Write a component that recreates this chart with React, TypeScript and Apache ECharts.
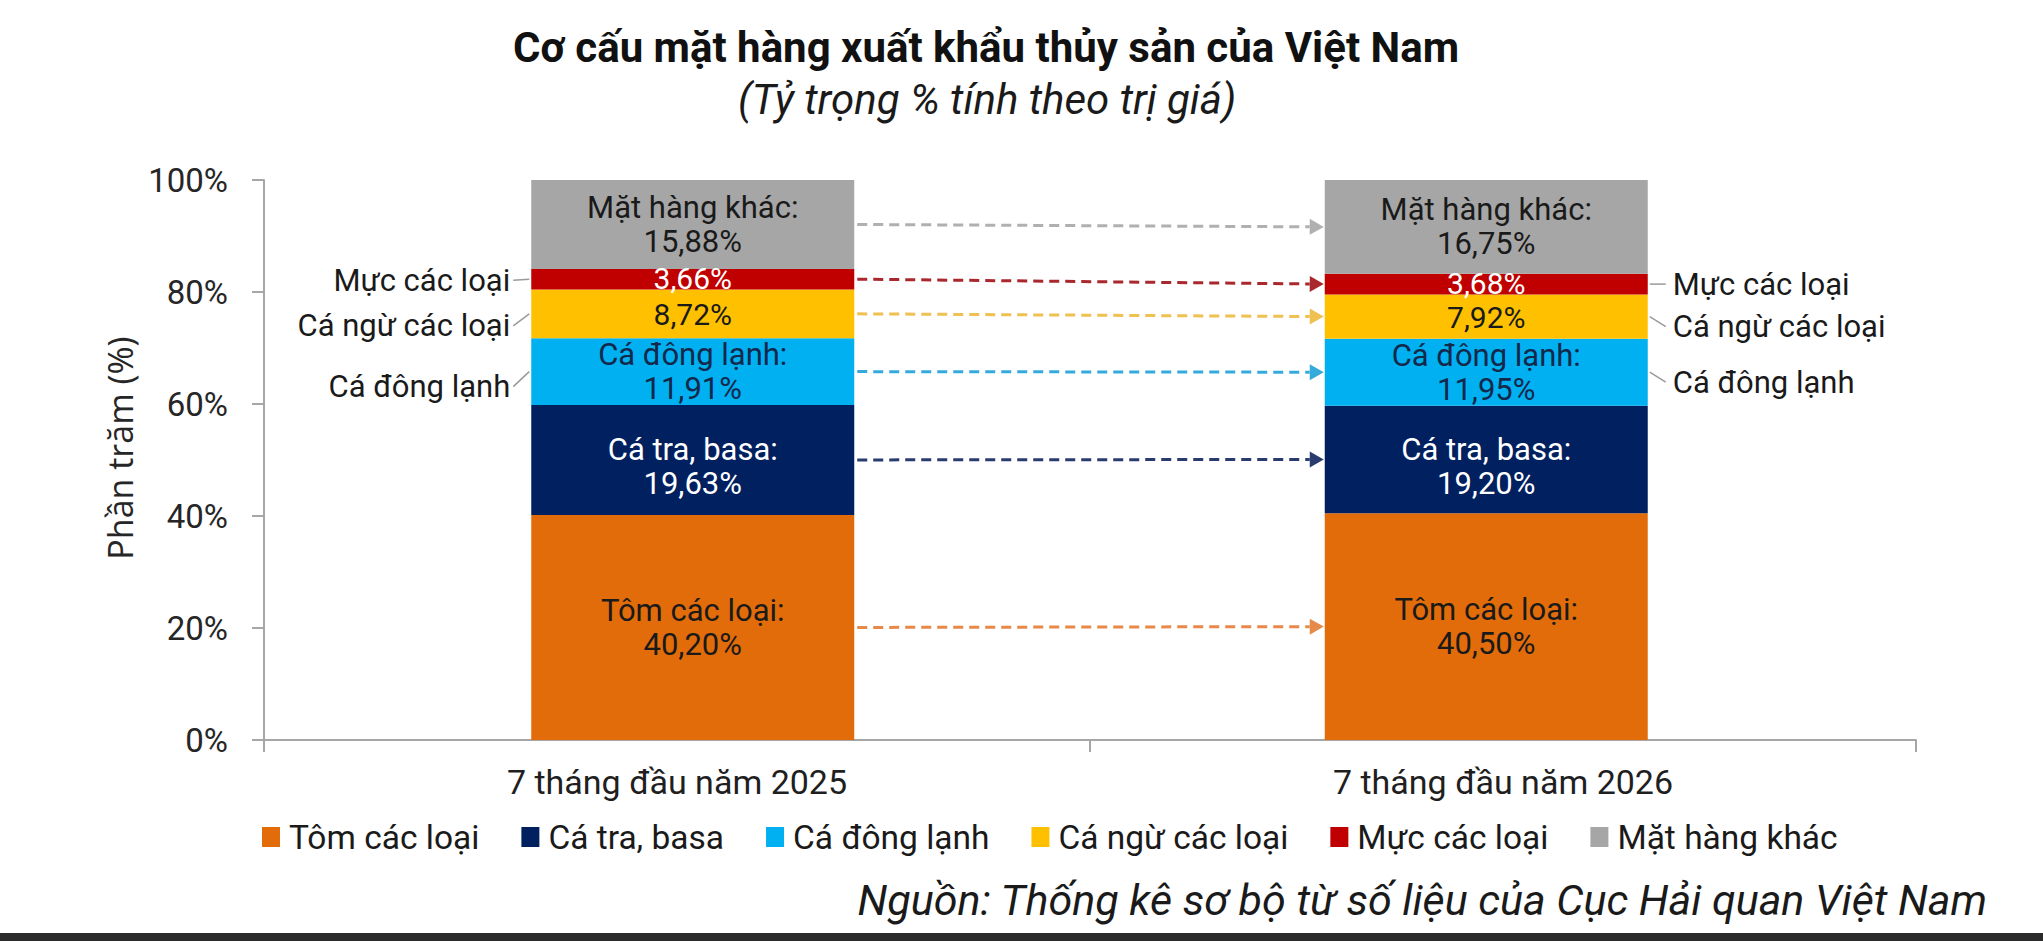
import { useEffect, useRef } from "react";
import * as echarts from "echarts";

// --- data ---
const periods = ["7 tháng đầu năm 2025", "7 tháng đầu năm 2026"];
const groups = [
  "Tôm các loại",
  "Cá tra, basa",
  "Cá đông lạnh",
  "Cá ngừ các loại",
  "Mực các loại",
  "Mặt hàng khác",
];
const share2025 = [40.2, 19.63, 11.91, 8.72, 3.66, 15.88];
const share2026 = [40.5, 19.2, 11.95, 7.92, 3.68, 16.75];
const yTicks = [0, 20, 40, 60, 80, 100];
// groups that get a callout name beside the bars
const calloutGroups = [2, 3, 4];

const TITLE = "Cơ cấu mặt hàng xuất khẩu thủy sản của Việt Nam";
const SUBTITLE = "(Tỷ trọng % tính theo trị giá)";
const SOURCE = "Nguồn: Thống kê sơ bộ từ số liệu của Cục Hải quan Việt Nam";

// --- styles ---
const FONT = "Roboto, 'Noto Sans', sans-serif";
const BAR_W = 323;
const COLORS = ["#E36C0A", "#002060", "#00B0F0", "#FFC000", "#C00000", "#A6A6A6"];
const ARROW_COLORS = ["#E58A48", "#2A3C6E", "#35AADB", "#EEC150", "#A8282E", "#B0B0B0"];
const LABEL_COLORS = ["#1a1a1a", "#ffffff", "#14284B", "#1a1a1a", "#ffffff", "#1a1a1a"];
const SHOW_NAME = [true, true, true, false, false, true];
const LABEL_DY = [0, 7, 0, 1, -1, 0];
const LEFT_DY = [15, 12, 1];
const RIGHT_DY = [10, 10, 0];
const AXIS_COLOR = "#A6A6A6";

const fmt = (v: number) => v.toFixed(2).replace(".", ",") + "%";

function stackMids(vals: number[]) {
  let acc = 0;
  return vals.map((v) => {
    const m = acc + v / 2;
    acc += v;
    return m;
  });
}

export default function App() {
  const ref = useRef<HTMLDivElement>(null);

  useEffect(() => {
    if (!ref.current) return;
    const chart = echarts.init(ref.current, null, { renderer: "svg" });
    const mid25 = stackMids(share2025);
    const mid26 = stackMids(share2026);

    const bars = groups.map((name, i) => ({
      type: "bar",
      name,
      stack: "total",
      xAxisIndex: 1,
      yAxisIndex: 1,
      barWidth: BAR_W,
      itemStyle: { color: COLORS[i] },
      data: [share2025[i], share2026[i]],
      label: {
        show: true,
        position: "inside",
        fontFamily: FONT,
        fontSize: SHOW_NAME[i] ? 31 : 30,
        lineHeight: SHOW_NAME[i] ? 34 : 28,
        color: LABEL_COLORS[i],
        offset: [0, LABEL_DY[i]],
        formatter: (p: any) => (SHOW_NAME[i] ? name + ":\n" : "") + fmt(p.value),
      },
    }));

    // dashed arrows between matching segments
    const arrows = {
      type: "custom",
      xAxisIndex: 1,
      yAxisIndex: 1,
      silent: true,
      clip: false,
      z: 5,
      data: groups.map((_, i) => [0, mid25[i], mid26[i], i]),
      renderItem: (_params: any, api: any) => {
        const i = api.value(3) as number;
        const a = api.coord([0, api.value(1)]);
        const b = api.coord([1, api.value(2)]);
        const x1 = a[0] + BAR_W / 2 + 3;
        const y1 = a[1];
        const x2 = b[0] - BAR_W / 2 - 1;
        const y2 = b[1];
        const len = Math.hypot(x2 - x1, y2 - y1);
        const ux = (x2 - x1) / len;
        const uy = (y2 - y1) / len;
        const hl = 14;
        const hw = 8;
        const bx = x2 - ux * hl;
        const by = y2 - uy * hl;
        return {
          type: "group",
          children: [
            {
              type: "line",
              shape: { x1, y1, x2: bx, y2: by },
              style: { stroke: ARROW_COLORS[i], lineWidth: 3, lineDash: [10, 6] },
            },
            {
              type: "polygon",
              shape: {
                points: [
                  [x2, y2],
                  [bx - uy * hw, by + ux * hw],
                  [bx + uy * hw, by - ux * hw],
                ],
              },
              style: { fill: ARROW_COLORS[i] },
            },
          ],
        };
      },
    };

    // names with leader lines beside the bars
    const callouts = {
      type: "custom",
      xAxisIndex: 1,
      yAxisIndex: 1,
      silent: true,
      clip: false,
      z: 5,
      data: calloutGroups.flatMap((g) => [
        [0, mid25[g], g],
        [1, mid26[g], g],
      ]),
      renderItem: (_params: any, api: any) => {
        const cat = api.value(0) as number;
        const g = api.value(2) as number;
        const p = api.coord([cat, api.value(1)]);
        const side = cat === 0 ? -1 : 1;
        const edge = p[0] + (side * BAR_W) / 2;
        const k = calloutGroups.indexOf(g);
        const ly = p[1] + (side < 0 ? LEFT_DY[k] : RIGHT_DY[k]);
        return {
          type: "group",
          children: [
            {
              type: "line",
              shape: { x1: edge + side * 2, y1: p[1], x2: edge + side * 18, y2: ly },
              style: { stroke: "#9a9a9a", lineWidth: 1.5 },
            },
            {
              type: "text",
              style: {
                x: edge + side * (side < 0 ? 21 : 25),
                y: ly,
                text: groups[g],
                fontSize: 31,
                fontFamily: FONT,
                fill: "#1a1a1a",
                align: side < 0 ? "right" : "left",
                verticalAlign: "middle",
              },
            },
          ],
        };
      },
    };

    chart.setOption({
      animation: false,
      backgroundColor: "#ffffff",
      textStyle: { fontFamily: FONT },
      grid: [
        { left: 264, right: 127, top: 180, bottom: 201 },
        { left: 296, right: 160, top: 180, bottom: 201 },
      ],
      xAxis: [
        {
          type: "category",
          gridIndex: 0,
          data: periods,
          axisLine: { lineStyle: { color: AXIS_COLOR, width: 2 } },
          axisTick: { show: true, length: 12, lineStyle: { color: AXIS_COLOR, width: 2 } },
          axisLabel: { fontSize: 34, color: "#1f1f1f", margin: 25, fontFamily: FONT },
        },
        { type: "category", gridIndex: 1, data: periods, show: false },
      ],
      yAxis: [
        {
          type: "value",
          gridIndex: 0,
          min: yTicks[0],
          max: yTicks[yTicks.length - 1],
          interval: yTicks[1] - yTicks[0],
          name: "Phần trăm (%)",
          nameLocation: "middle",
          nameRotate: 90,
          nameGap: 125,
          nameTextStyle: {
            fontSize: 34,
            fontFamily: "'Open Sans', sans-serif",
            color: "#262626",
            padding: [0, 0, 0, 24],
          },
          axisLine: { show: true, lineStyle: { color: AXIS_COLOR, width: 2 } },
          axisTick: { show: true, length: 12, lineStyle: { color: AXIS_COLOR, width: 2 } },
          splitLine: { show: false },
          axisLabel: { formatter: "{value}%", fontSize: 33, color: "#262626", margin: 36, fontFamily: FONT },
        },
        { type: "value", gridIndex: 1, min: 0, max: 100, show: false },
      ],
      legend: {
        data: groups,
        left: 262,
        top: 820,
        padding: 0,
        icon: "rect",
        itemWidth: 18,
        itemHeight: 20,
        itemGap: 42,
        selectedMode: false,
        textStyle: { fontSize: 33.5, fontFamily: FONT, color: "#1a1a1a", padding: [0, 0, 0, 4] },
      },
      graphic: [
        {
          type: "text",
          x: 986,
          y: 47,
          style: {
            text: TITLE,
            fontSize: 42,
            fontWeight: "bold",
            fontFamily: FONT,
            fill: "#111111",
            align: "center",
            verticalAlign: "middle",
          },
        },
        {
          type: "text",
          x: 987,
          y: 99,
          style: {
            text: SUBTITLE,
            fontSize: 42,
            fontStyle: "italic",
            fontFamily: FONT,
            fill: "#1a1a1a",
            align: "center",
            verticalAlign: "middle",
          },
        },
        {
          type: "text",
          x: 1987,
          y: 900,
          style: {
            text: SOURCE,
            fontSize: 43,
            fontStyle: "italic",
            fontFamily: FONT,
            fill: "#1a1a1a",
            align: "right",
            verticalAlign: "middle",
          },
        },
        {
          type: "rect",
          shape: { x: 0, y: 933, width: 2043, height: 8 },
          style: { fill: "#2b2b2b" },
        },
      ],
      series: [...bars, arrows, callouts],
    });

    return () => chart.dispose();
  }, []);

  return (
    <div
      ref={ref}
      style={{ position: "absolute", left: 0, top: 0, width: 2043, height: 941, background: "#fff" }}
    />
  );
}
